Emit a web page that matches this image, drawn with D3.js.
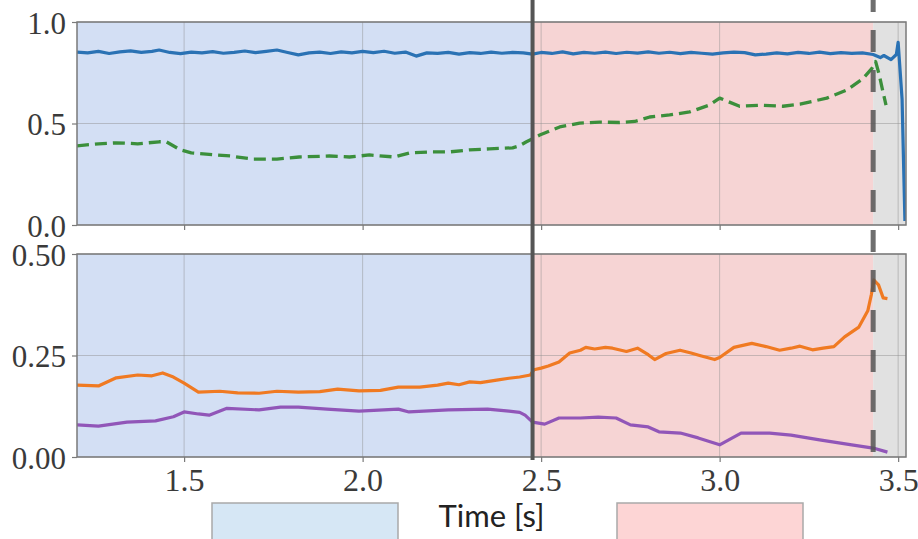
<!DOCTYPE html>
<html>
<head>
<meta charset="utf-8">
<script src="https://cdn.jsdelivr.net/npm/d3@7"></script>
<style>
  html, body { margin: 0; padding: 0; background: #fff; }
  svg { display: block; }
</style>
</head>
<body>
<svg id="chart" width="918" height="539"></svg>
<script>
// ---- data -------------------------------------------------------------
const xTicks = [1.5, 2.0, 2.5, 3.0, 3.5];
const topTicks = [0.0, 0.5, 1.0];
const bottomTicks = [0.00, 0.25, 0.50];

// phase boundaries [s]
const phaseStart = 1.2;
const phaseSwitch = 2.476;
const phaseEnd = 3.43;
const timeEnd = 3.522;

// upper panel: solid blue series
const blueT = [1.20,1.23,1.26,1.29,1.32,1.35,1.38,1.41,1.43,1.46,1.49,1.52,1.55,1.58,1.61,1.64,1.67,1.70,1.73,1.76,1.79,1.82,1.85,1.88,1.91,1.94,1.97,2.00,2.03,2.06,2.09,2.12,2.15,2.18,2.21,2.24,2.27,2.30,2.33,2.36,2.39,2.42,2.45,2.476,2.50,2.53,2.56,2.59,2.62,2.65,2.68,2.71,2.74,2.77,2.80,2.83,2.86,2.89,2.92,2.95,2.98,3.01,3.04,3.07,3.10,3.13,3.16,3.19,3.22,3.25,3.28,3.31,3.34,3.37,3.40,3.43,3.45,3.46,3.48,3.495,3.50,3.511,3.519];
const blueV = [0.852,0.848,0.855,0.845,0.853,0.858,0.850,0.855,0.862,0.850,0.844,0.852,0.848,0.854,0.846,0.850,0.857,0.849,0.855,0.862,0.850,0.838,0.848,0.852,0.845,0.853,0.848,0.855,0.849,0.856,0.846,0.852,0.832,0.848,0.845,0.850,0.842,0.849,0.845,0.852,0.846,0.850,0.848,0.842,0.850,0.845,0.853,0.843,0.850,0.846,0.852,0.845,0.851,0.847,0.853,0.846,0.851,0.844,0.850,0.846,0.842,0.848,0.852,0.849,0.838,0.842,0.848,0.843,0.850,0.845,0.852,0.844,0.849,0.845,0.848,0.840,0.825,0.835,0.815,0.840,0.900,0.620,0.020];

// upper panel: dashed green series
const greenT = [1.20,1.26,1.31,1.37,1.43,1.45,1.49,1.52,1.59,1.63,1.69,1.76,1.822,1.907,1.963,2.019,2.089,2.131,2.187,2.243,2.299,2.355,2.420,2.439,2.459,2.476,2.496,2.552,2.608,2.664,2.720,2.762,2.804,2.860,2.916,2.972,3.000,3.056,3.112,3.177,3.225,3.300,3.356,3.401,3.426,3.437,3.447,3.457,3.466];
const greenV = [0.390,0.400,0.405,0.400,0.410,0.410,0.370,0.355,0.345,0.340,0.325,0.325,0.335,0.340,0.335,0.345,0.335,0.355,0.360,0.360,0.370,0.375,0.380,0.390,0.410,0.425,0.443,0.483,0.502,0.507,0.505,0.510,0.532,0.542,0.557,0.591,0.625,0.585,0.590,0.585,0.595,0.625,0.665,0.720,0.770,0.805,0.740,0.660,0.590];

// lower panel: orange series
const orangeT = [1.20,1.26,1.31,1.37,1.41,1.44,1.47,1.50,1.54,1.60,1.65,1.71,1.76,1.82,1.88,1.93,1.99,2.05,2.10,2.16,2.21,2.24,2.27,2.30,2.33,2.38,2.41,2.44,2.47,2.48,2.50,2.52,2.55,2.58,2.61,2.625,2.65,2.68,2.70,2.739,2.77,2.80,2.818,2.85,2.889,2.92,2.944,2.986,3.00,3.04,3.09,3.13,3.168,3.20,3.225,3.26,3.29,3.32,3.35,3.39,3.415,3.425,3.432,3.445,3.458,3.47];
const orangeV = [0.177,0.175,0.195,0.202,0.200,0.207,0.197,0.182,0.160,0.162,0.158,0.157,0.162,0.160,0.161,0.167,0.163,0.164,0.172,0.172,0.177,0.182,0.178,0.185,0.183,0.190,0.194,0.197,0.202,0.215,0.219,0.224,0.234,0.256,0.263,0.270,0.266,0.270,0.268,0.260,0.268,0.252,0.240,0.255,0.263,0.256,0.250,0.240,0.245,0.270,0.280,0.272,0.263,0.268,0.273,0.264,0.268,0.272,0.296,0.320,0.360,0.400,0.436,0.424,0.392,0.390];

// lower panel: purple series
const purpleT = [1.20,1.26,1.34,1.42,1.47,1.50,1.54,1.57,1.62,1.71,1.77,1.82,1.90,1.99,2.10,2.13,2.24,2.35,2.41,2.44,2.455,2.476,2.51,2.55,2.61,2.66,2.71,2.75,2.80,2.83,2.89,2.94,3.00,3.06,3.14,3.20,3.28,3.37,3.43,3.47];
const purpleV = [0.079,0.076,0.086,0.089,0.099,0.111,0.106,0.103,0.120,0.116,0.123,0.123,0.118,0.113,0.118,0.111,0.116,0.118,0.113,0.110,0.103,0.086,0.081,0.096,0.096,0.098,0.096,0.079,0.074,0.062,0.059,0.047,0.030,0.059,0.059,0.054,0.042,0.030,0.022,0.012];

// ---- layout ------------------------------------------------------------
const svg = d3.select("#chart");
const left = 77, right = 906;
const topPanel = { y0: 22, y1: 225 };
const botPanel = { y0: 254, y1: 457 };

const x = d3.scaleLinear().domain([phaseStart, timeEnd]).range([left, right]);
const yTop = d3.scaleLinear().domain([0, 1]).range([topPanel.y1, topPanel.y0]);
const yBot = d3.scaleLinear().domain([0, 0.5]).range([botPanel.y1, botPanel.y0]);

const serif = "'Liberation Serif', 'DejaVu Serif', serif";
const zip = (ts, vs) => ts.map((t, i) => [t, vs[i]]);

function panel(y, p, yTicks, fmt, series, clipId) {
  const g = svg.append("g");
  // phase shading
  g.append("rect").attr("x", x(phaseStart)).attr("y", p.y0)
    .attr("width", x(phaseSwitch) - x(phaseStart)).attr("height", p.y1 - p.y0)
    .attr("fill", "#d3dff4");
  g.append("rect").attr("x", x(phaseSwitch)).attr("y", p.y0)
    .attr("width", x(phaseEnd) - x(phaseSwitch)).attr("height", p.y1 - p.y0)
    .attr("fill", "#f6d4d4");
  g.append("rect").attr("x", x(phaseEnd)).attr("y", p.y0)
    .attr("width", x(timeEnd) - x(phaseEnd)).attr("height", p.y1 - p.y0)
    .attr("fill", "#e1e1e1");

  // grid
  g.append("g").selectAll("line").data(xTicks).join("line")
    .attr("x1", d => x(d)).attr("x2", d => x(d))
    .attr("y1", p.y0).attr("y2", p.y1)
    .attr("stroke", "#8c8c8c").attr("stroke-opacity", 0.45).attr("stroke-width", 1);
  g.append("g").selectAll("line").data(yTicks).join("line")
    .attr("x1", left).attr("x2", right)
    .attr("y1", d => y(d)).attr("y2", d => y(d))
    .attr("stroke", "#8c8c8c").attr("stroke-opacity", 0.45).attr("stroke-width", 1);

  // clip for data lines
  svg.append("clipPath").attr("id", clipId).append("rect")
    .attr("x", left).attr("y", p.y0 - 2).attr("width", right - left).attr("height", p.y1 - p.y0 + 4);

  const line = d3.line().x(d => x(d[0])).y(d => y(d[1])).curve(d3.curveLinear);
  series.forEach(s => {
    g.append("path").datum(zip(s.t, s.v))
      .attr("clip-path", `url(#${clipId})`)
      .attr("d", line).attr("fill", "none")
      .attr("stroke", s.color).attr("stroke-width", s.width || 3)
      .attr("stroke-linejoin", "round")
      .attr("stroke-dasharray", s.dash || null);
  });

  // frame
  g.append("rect").attr("x", left).attr("y", p.y0)
    .attr("width", right - left).attr("height", p.y1 - p.y0)
    .attr("fill", "none").attr("stroke", "#7a7a7a").attr("stroke-width", 1.5);

  // y axis ticks and labels
  const yAxis = d3.axisLeft(y).tickValues(yTicks).tickFormat(fmt).tickSize(5).tickPadding(6);
  const ya = g.append("g").attr("transform", `translate(${left},0)`).call(yAxis);
  ya.select(".domain").remove();
  ya.selectAll("line").attr("stroke", "#7a7a7a").attr("stroke-width", 1.2);
  ya.selectAll("text").attr("font-family", serif).attr("font-size", 31)
    .attr("fill", "#3a3a3a").attr("dy", "0.36em");
  return g;
}

panel(yTop, topPanel, topTicks, d3.format(".1f"), [
  { t: greenT, v: greenV, color: "#3b8f3b", width: 3.3, dash: "12,6" },
  { t: blueT, v: blueV, color: "#2a72b4", width: 3.2 }
], "clipTop");

panel(yBot, botPanel, bottomTicks, d3.format(".2f"), [
  { t: orangeT, v: orangeV, color: "#f07a22", width: 3.2 },
  { t: purpleT, v: purpleV, color: "#9156b8", width: 3.2 }
], "clipBot");

// x axes: ticks under both panels, labels only on the lower one
const xTop = svg.append("g").attr("transform", `translate(0,${topPanel.y1})`)
  .call(d3.axisBottom(x).tickValues(xTicks).tickFormat("").tickSize(5));
xTop.select(".domain").remove();
xTop.selectAll("line").attr("stroke", "#7a7a7a").attr("stroke-width", 1.2);

const xBot = svg.append("g").attr("transform", `translate(0,${botPanel.y1})`)
  .call(d3.axisBottom(x).tickValues(xTicks).tickFormat(d3.format(".1f")).tickSize(5).tickPadding(4));
xBot.select(".domain").remove();
xBot.selectAll("line").attr("stroke", "#7a7a7a").attr("stroke-width", 1.2);
xBot.selectAll("text").attr("font-family", serif).attr("font-size", 32)
  .attr("fill", "#3a3a3a").attr("dy", "0.78em");

// phase switch markers
svg.append("line").attr("x1", x(phaseSwitch)).attr("x2", x(phaseSwitch))
  .attr("y1", 0).attr("y2", 460)
  .attr("stroke", "#555").attr("stroke-width", 4);
svg.append("line").attr("x1", x(phaseEnd)).attr("x2", x(phaseEnd))
  .attr("y1", 0).attr("y2", 467)
  .attr("stroke", "#555").attr("stroke-opacity", 0.85).attr("stroke-width", 5)
  .attr("stroke-dasharray", "22,18").attr("stroke-dashoffset", 10);

// x label and phase legend
svg.append("text").attr("x", (left + right) / 2 + 0).attr("y", 527)
  .attr("text-anchor", "middle").attr("font-family", "Lato, 'Open Sans', sans-serif")
  .attr("font-size", 31).attr("fill", "#222").text("Time [s]");

svg.append("rect").attr("x", 212).attr("y", 503).attr("width", 186).attr("height", 50)
  .attr("fill", "#d6e7f5").attr("stroke", "#a9a9a9").attr("stroke-width", 1.5);
svg.append("rect").attr("x", 617).attr("y", 503).attr("width", 186).attr("height", 50)
  .attr("fill", "#fdd5d5").attr("stroke", "#a9a9a9").attr("stroke-width", 1.5);
</script>
</body>
</html>
